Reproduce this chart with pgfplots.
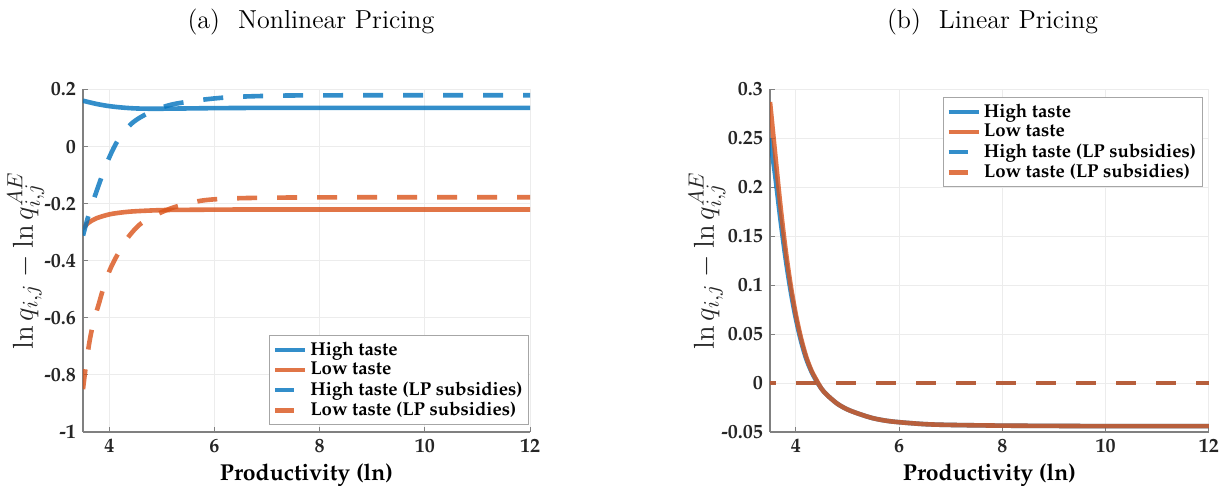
\documentclass[border=0pt]{standalone}
\usepackage[T1,TU]{fontenc}
\usepackage{pgfplots}
\pgfplotsset{compat=1.18}
\newcommand{\pal}{\fontencoding{T1}\fontfamily{ppl}\fontseries{b}\selectfont}
\definecolor{mblue}{RGB}{0,114,189}
\definecolor{morange}{RGB}{217,83,25}
\definecolor{axgray}{RGB}{128,128,128}
\definecolor{txt}{RGB}{38,38,38}

\pgfplotsset{
 mystyle/.style={
  scale only axis, width=223.5pt, height=171.35pt,
  xmin=3.5, xmax=12,
  axis x line*=bottom, axis y line*=left,
  axis line style={draw=axgray, line width=0.6pt, -},
  every tick/.style={draw=axgray, line width=0.5pt},
  major tick length=2.5pt,
  tick align=inside,
  xtick={4,6,8,10,12},
  xticklabels={4,6,8,10,12},
  grid=major, major grid style={draw=gray!15, line width=0.5pt},
  ticklabel style={font=\pal\fontsize{10}{12}\selectfont, text=txt},
  /pgf/number format/assume math mode=true,
  xlabel={Productivity (ln)},
  xlabel style={font=\pal\fontsize{11.5}{13}\selectfont, text=black, at={(axis description cs:0.5,-0.127)}, anchor=center},
  ylabel={$\ln q_{i,j}-\ln q_{i,j}^{AE}$},
  ylabel style={font=\fontsize{15}{17}\selectfont, text=txt, anchor=center},
  every axis title shift=0pt,
  title style={font=\fontsize{13}{15}\selectfont, anchor=center},
  legend cell align=left,
  legend style={font=\pal\fontsize{9.3}{10.5}\selectfont, draw=gray!70, line width=0.5pt, fill=white,
    inner xsep=1.5pt, inner ysep=1.5pt, row sep=-1.0pt,
    nodes={inner sep=1.5pt}},
 },
 hsolid/.style={draw=mblue, draw opacity=0.8, line width=2.3pt, smooth, tension=0.5,
   legend image code/.code={\draw[##1] (0pt,0pt) -- (15pt,0pt);}},
 lsolid/.style={draw=morange, draw opacity=0.8, line width=2.3pt, smooth, tension=0.5,
   legend image code/.code={\draw[##1] (0pt,0pt) -- (15pt,0pt);}},
 hdash/.style={draw=mblue, draw opacity=0.8, line width=2.3pt, smooth, tension=0.5, dash pattern=on 10pt off 10pt,
   legend image code/.code={\draw[##1, solid] (0pt,0pt) -- (9.5pt,0pt); \draw[##1, draw=none] (9.5pt,0pt) -- (15pt,0pt);}},
 ldash/.style={draw=morange, draw opacity=0.8, line width=2.3pt, smooth, tension=0.5, dash pattern=on 10pt off 10pt,
   legend image code/.code={\draw[##1, solid] (0pt,0pt) -- (9.5pt,0pt); \draw[##1, draw=none] (9.5pt,0pt) -- (15pt,0pt);}},
}

\begin{document}
\begin{tikzpicture}
\useasboundingbox (0,0) rectangle (610.5pt,243pt);

\begin{axis}[mystyle, at={(41.5pt,27pt)}, anchor=south west,
  ymin=-1, ymax=0.2,
  ytick={-1,-0.8,-0.6,-0.4,-0.2,0,0.2},
  yticklabels={-1,-0.8,-0.6,-0.4,-0.2,0,0.2},
  ylabel style={at={(axis description cs:-0.128,0.5)}},
  title={(a)\hspace{9pt}Nonlinear Pricing},
  title style={at={(axis description cs:0.51,1.195)}},
  legend style={at={(axis description cs:0.998,0.02)}, anchor=south east},
]
\addplot[hsolid] coordinates {
(3.5,0.160) (3.75,0.149) (4.0,0.141) (4.25,0.136) (4.5,0.133) (4.75,0.132)
(5.0,0.132) (5.5,0.133) (6.0,0.134) (7.0,0.135) (8.0,0.135) (10.0,0.135) (12.0,0.135)};
\addlegendentry{High taste}
\addplot[lsolid] coordinates {
(3.5,-0.288) (3.6,-0.268) (3.75,-0.252) (4.0,-0.238) (4.25,-0.231) (4.5,-0.227)
(5.0,-0.223) (5.5,-0.222) (6.5,-0.221) (8.0,-0.221) (10.0,-0.221) (12.0,-0.221)};
\addlegendentry{Low taste}
\addplot[hdash] coordinates {
(3.5,-0.312) (3.6,-0.245) (3.75,-0.161) (3.95,-0.060) (4.15,0.017) (4.4,0.076)
(4.65,0.108) (5.0,0.136) (5.25,0.149) (5.75,0.163) (6.35,0.173) (7.3,0.178)
(8.5,0.179) (10.0,0.179) (12.0,0.179)};
\addlegendentry{High taste (LP subsidies)}
\addplot[ldash] coordinates {
(3.5,-0.850) (3.56,-0.760) (3.63,-0.677) (3.7,-0.615) (3.8,-0.552) (3.9,-0.488)
(4.0,-0.437) (4.1,-0.398) (4.2,-0.365) (4.35,-0.320) (4.55,-0.278) (4.75,-0.252)
(4.95,-0.234) (5.25,-0.212) (5.75,-0.190) (6.35,-0.182) (7.4,-0.179) (9.0,-0.178) (12.0,-0.178)};
\addlegendentry{Low taste (LP subsidies)}
\end{axis}

\begin{axis}[mystyle, at={(385pt,27pt)}, anchor=south west, width=219.5pt,
  ymin=-0.05, ymax=0.3,
  ytick={-0.05,0,0.05,0.1,0.15,0.2,0.25,0.3},
  yticklabels={-0.05,0,0.05,0.1,0.15,0.2,0.25,0.3},
  ylabel style={at={(axis description cs:-0.1435,0.5)}},
  title={(b)\hspace{9pt}Linear Pricing},
  title style={at={(axis description cs:0.507,1.195)}},
  legend style={at={(axis description cs:0.9856,0.9767)}, anchor=north east},
]
\addplot[hsolid] coordinates {
(3.5,0.250) (3.6,0.212) (3.7,0.168) (3.8,0.128) (3.9,0.094) (4.0,0.066) (4.1,0.043)
(4.2,0.025) (4.3,0.012) (4.4,0.002) (4.5,-0.006) (4.6,-0.012) (4.8,-0.021) (5.0,-0.027)
(5.25,-0.032) (5.5,-0.036) (5.75,-0.0385) (6.0,-0.040) (6.5,-0.042) (7.0,-0.0428)
(8.0,-0.0435) (9.0,-0.0438) (10.0,-0.044) (12.0,-0.044)};
\addlegendentry{High taste}
\addplot[lsolid] coordinates {
(3.5,0.287) (3.6,0.234) (3.7,0.182) (3.8,0.137) (3.9,0.100) (4.0,0.070) (4.1,0.046)
(4.2,0.027) (4.3,0.013) (4.4,0.003) (4.5,-0.006) (4.6,-0.012) (4.8,-0.021) (5.0,-0.027)
(5.25,-0.032) (5.5,-0.036) (5.75,-0.0385) (6.0,-0.040) (6.5,-0.042) (7.0,-0.0428)
(8.0,-0.0435) (9.0,-0.0438) (10.0,-0.044) (12.0,-0.044)};
\addlegendentry{Low taste}
\addplot[hdash, dash phase=7pt] coordinates {(3.5,0) (12,0)};
\addlegendentry{High taste (LP subsidies)}
\addplot[ldash, dash phase=7pt] coordinates {(3.5,0) (12,0)};
\addlegendentry{Low taste (LP subsidies)}
\end{axis}
\end{tikzpicture}
\end{document}
